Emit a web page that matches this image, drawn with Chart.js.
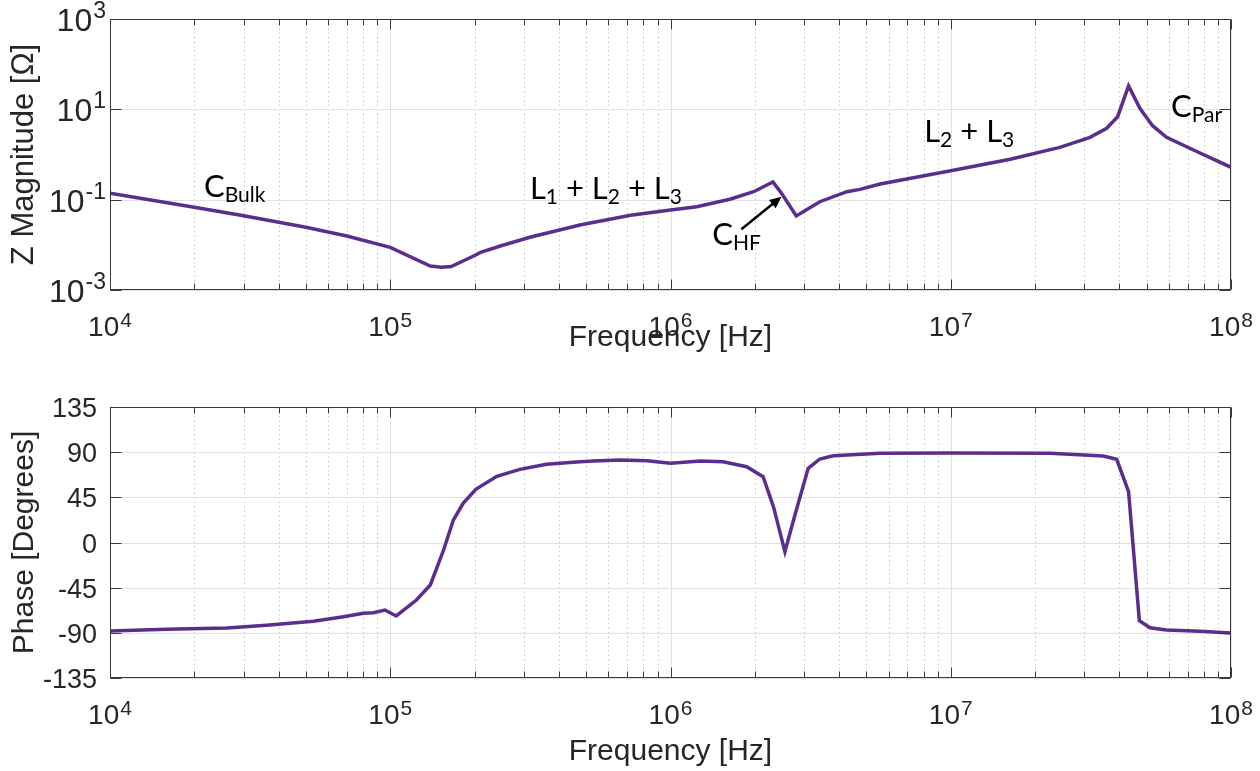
<!DOCTYPE html>
<html>
<head>
<meta charset="utf-8">
<script src="https://cdn.jsdelivr.net/npm/chart.js@4.4.1/dist/chart.umd.min.js"></script>
<style>
  html, body { margin: 0; padding: 0; background: #fff; }
  #wrap { position: relative; width: 1260px; height: 771px; }
  #magChart { position: absolute; left: 0; top: 0; }
  #phaseChart { position: absolute; left: 0; top: 385px; }
</style>
</head>
<body>
<div id="wrap">
  <canvas id="magChart" width="1260" height="385"></canvas>
  <canvas id="phaseChart" width="1260" height="386"></canvas>
</div>
<script>
// --- data ---
const freqMag = [1e4, 2e4, 3e4, 5e4, 7e4, 1e5, 1.39e5, 1.52e5, 1.65e5, 2.0e5, 2.1e5, 2.47e5,
  3.15e5, 4.75e5, 7.2e5, 1e6, 1.24e6, 1.63e6, 1.98e6, 2.32e6, 2.49e6, 2.81e6, 3.41e6,
  4.26e6, 4.74e6, 5.6e6, 1e7, 1.63e7, 2.45e7, 3.14e7, 3.6e7, 3.94e7, 4.31e7, 4.73e7,
  5.25e7, 5.89e7, 7.35e7, 1e8];
const magValues = [0.138, 0.068, 0.044, 0.0244, 0.0157, 0.0088, 0.0034, 0.0032, 0.0033, 0.0058, 0.0068, 0.0094,
  0.0147, 0.0275, 0.0451, 0.059, 0.070, 0.102, 0.150, 0.246, 0.138, 0.0435, 0.090,
  0.150, 0.169, 0.222, 0.438, 0.783, 1.44, 2.40, 3.80, 6.87, 32.9, 10.5,
  4.34, 2.40, 1.26, 0.521];

const freqPhase = [1e4, 1.59e4, 2.61e4, 3.62e4, 5.32e4, 6.81e4, 8.02e4, 8.71e4, 9.57e4, 1.05e5,
  1.24e5, 1.39e5, 1.55e5, 1.68e5, 1.82e5, 2.02e5, 2.4e5, 2.9e5, 3.61e5, 4.75e5, 5.31e5,
  6.62e5, 8.24e5, 1e6, 1.28e6, 1.54e6, 1.87e6, 2.14e6, 2.33e6, 2.56e6, 2.78e6, 3.10e6,
  3.41e6, 3.81e6, 5.6e6, 1e7, 2.26e7, 3.5e7, 3.91e7, 4.31e7, 4.71e7, 5.14e7, 5.89e7,
  7.74e7, 1e8];
const phaseValues = [-88.2, -86.5, -85.2, -82.5, -78.5, -73.9, -70.5, -69.9, -67.3, -73.2,
  -57.3, -42.3, -7.5, 22.4, 39.1, 53.0, 66.0, 72.9, 77.9, 80.5, 81.2,
  82.2, 81.5, 78.9, 81.2, 80.5, 75.5, 65.6, 35.7, -9.2, 27.4, 73.9,
  83.2, 86.5, 88.9, 89.2, 88.9, 86.2, 82.9, 50.6, -77.9, -84.9, -87.2,
  -88.5, -90.2];

// tick labels
const freqTicks = [1e4, 1e5, 1e6, 1e7, 1e8];
const freqTickExp = ['4', '5', '6', '7', '8'];
const magTicks = [1e-3, 1e-1, 1e1, 1e3];
const magTickExp = ['-3', '-1', '1', '3'];
const phaseTicks = [-135, -90, -45, 0, 45, 90, 135];
const phaseTickLabels = ['-135', '-90', '-45', '0', '45', '90', '135'];

// text on the magnitude plot: [freq, magnitude, parts]
const magNotes = [
  [2.165e4, 0.115, [['C', 0], ['Bulk', 1]]],
  [3.15e5, 0.1035, [['L', 0], ['1', 1], [' + L', 0], ['2', 1], [' + L', 0], ['3', 1]]],
  [1.41e6, 0.00993, [['C', 0], ['HF', 1]]],
  [8.04e6, 1.89, [['L', 0], ['2', 1], [' + L', 0], ['3', 1]]],
  [6.11e7, 6.67, [['C', 0], ['Par', 1]]]
];
const arrowFrom = [1.79e6, 0.0221];
const arrowTo = [2.49e6, 0.1164];

const lineColor = '#5b2d8e';
const axisFont = '"Liberation Sans", Arial, sans-serif';
const noteFont = 'Lato, "Open Sans", sans-serif';

// minor ticks 2..9 in every decade
const freqMinor = [];
freqTicks.slice(0, -1).forEach(d => { for (let k = 2; k <= 9; k++) freqMinor.push(d * k); });

function pts(xs, ys) {
    return xs.map((v, i) => ({ x: v, y: ys[i] }));
}

function hline(ctx, x1, y1, x2, y2) {
    ctx.beginPath();
    ctx.moveTo(x1, y1);
    ctx.lineTo(x2, y2);
    ctx.stroke();
}

// "10" with a raised exponent
function drawPow(ctx, x, y, exp, align, size, expSize, raise) {
    ctx.font = `${size}px ${axisFont}`;
    const wb = ctx.measureText('10').width;
    ctx.font = `${expSize}px ${axisFont}`;
    const we = ctx.measureText(exp).width;
    const total = wb + we + 1;
    const sx = align === 'center' ? x - total / 2 : x - total;
    ctx.textAlign = 'left';
    ctx.font = `${size}px ${axisFont}`;
    ctx.fillText('10', sx, y);
    ctx.font = `${expSize}px ${axisFont}`;
    ctx.fillText(exp, sx + wb + 1, y - raise);
}

// MATLAB-like box, grid, inward ticks and labels
function axesPlugin(cfg) {
    return {
        id: 'matlabAxes',
        beforeDatasetsDraw(chart) {
            const { ctx, chartArea: a, scales: { x, y } } = chart;
            ctx.save();
            ctx.lineWidth = 1;
            ctx.strokeStyle = '#c4c4c4';
            ctx.setLineDash([1.5, 3]);
            freqMinor.forEach(v => {
                const px = Math.round(x.getPixelForValue(v)) + 0.5;
                hline(ctx, px, a.top, px, a.bottom);
            });
            ctx.setLineDash([]);
            ctx.strokeStyle = '#e2e2e2';
            freqTicks.forEach(v => {
                const px = Math.round(x.getPixelForValue(v)) + 0.5;
                hline(ctx, px, a.top, px, a.bottom);
            });
            cfg.yTicks.forEach(v => {
                const py = Math.round(y.getPixelForValue(v)) + 0.5;
                hline(ctx, a.left, py, a.right, py);
            });
            ctx.restore();
        },
        afterDatasetsDraw(chart) {
            const { ctx, chartArea: a, scales: { x, y } } = chart;
            const L = Math.round(a.left) + 0.5, R = Math.round(a.right) - 0.5;
            const T = Math.round(a.top) + 0.5, B = Math.round(a.bottom) - 0.5;
            ctx.save();
            ctx.strokeStyle = '#3a3a3a';
            ctx.lineWidth = 1;
            ctx.strokeRect(L, T, R - L, B - T);
            freqTicks.forEach(v => {
                const px = Math.round(x.getPixelForValue(v)) + 0.5;
                hline(ctx, px, B, px, B - 10);
                hline(ctx, px, T, px, T + 10);
            });
            freqMinor.forEach(v => {
                const px = Math.round(x.getPixelForValue(v)) + 0.5;
                hline(ctx, px, B, px, B - 6);
                hline(ctx, px, T, px, T + 6);
            });
            cfg.yTicks.forEach(v => {
                const py = Math.round(y.getPixelForValue(v)) + 0.5;
                hline(ctx, L, py, L + 11, py);
                hline(ctx, R, py, R - 11, py);
            });

            ctx.fillStyle = '#262626';
            ctx.textBaseline = 'alphabetic';
            freqTicks.forEach((v, i) => {
                drawPow(ctx, x.getPixelForValue(v), a.bottom + 46, freqTickExp[i], 'center', 28, 21, 9);
            });
            cfg.yTicks.forEach((v, i) => {
                const py = y.getPixelForValue(v);
                if (cfg.yPow) {
                    drawPow(ctx, a.left - 4, py + 12, cfg.yLabels[i], 'right', 32, 23, 13);
                } else {
                    ctx.font = `27px ${axisFont}`;
                    ctx.textAlign = 'right';
                    ctx.fillText(cfg.yLabels[i], a.left - 13, py + 10);
                }
            });

            ctx.font = `30px ${axisFont}`;
            ctx.textAlign = 'center';
            ctx.fillText('Frequency [Hz]', (a.left + a.right) / 2, a.bottom + cfg.xTitleGap);
            ctx.font = `${cfg.yTitleSize}px ${axisFont}`;
            ctx.translate(33, (a.top + a.bottom) / 2);
            ctx.rotate(-Math.PI / 2);
            ctx.fillText(cfg.yTitle, 0, 0);
            ctx.restore();
        }
    };
}

const notesPlugin = {
    id: 'magNotes',
    afterDatasetsDraw(chart) {
        const { ctx, scales: { x, y } } = chart;
        ctx.save();
        ctx.fillStyle = '#000';
        ctx.textAlign = 'left';
        ctx.textBaseline = 'alphabetic';
        magNotes.forEach(([f, m, parts]) => {
            let px = x.getPixelForValue(f);
            const py = y.getPixelForValue(m);
            parts.forEach(([txt, sub]) => {
                ctx.font = sub ? `21px ${noteFont}` : `31px ${noteFont}`;
                ctx.fillText(txt, px, sub ? py + 5 : py);
                px += ctx.measureText(txt).width;
            });
        });
        // arrow to the C_HF dip
        const x1 = x.getPixelForValue(arrowFrom[0]), y1 = y.getPixelForValue(arrowFrom[1]);
        const x2 = x.getPixelForValue(arrowTo[0]), y2 = y.getPixelForValue(arrowTo[1]);
        const ang = Math.atan2(y2 - y1, x2 - x1);
        const head = 13;
        ctx.strokeStyle = '#000';
        ctx.lineWidth = 2.5;
        hline(ctx, x1, y1, x2 - Math.cos(ang) * head * 0.8, y2 - Math.sin(ang) * head * 0.8);
        ctx.beginPath();
        ctx.moveTo(x2, y2);
        ctx.lineTo(x2 - head * Math.cos(ang - 0.42), y2 - head * Math.sin(ang - 0.42));
        ctx.lineTo(x2 - head * Math.cos(ang + 0.42), y2 - head * Math.sin(ang + 0.42));
        ctx.closePath();
        ctx.fill();
        ctx.restore();
    }
};

function baseOptions(padTop, padBottom, yScale) {
    return {
        responsive: false,
        animation: false,
        layout: { padding: { left: 110, right: 29, top: padTop, bottom: padBottom } },
        plugins: { legend: { display: false }, tooltip: { enabled: false } },
        scales: {
            x: { type: 'logarithmic', min: 1e4, max: 1e8, display: false },
            y: Object.assign({ display: false }, yScale)
        }
    };
}

const lineStyle = {
    borderColor: lineColor,
    borderWidth: 3.5,
    pointRadius: 0,
    tension: 0,
    fill: false
};

new Chart(document.getElementById('magChart'), {
    type: 'line',
    data: { datasets: [Object.assign({ data: pts(freqMag, magValues) }, lineStyle)] },
    options: baseOptions(19, 95, { type: 'logarithmic', min: 1e-3, max: 1e3 }),
    plugins: [axesPlugin({ yTicks: magTicks, yLabels: magTickExp, yPow: true, yTitle: 'Z Magnitude [Ω]', yTitleSize: 31, xTitleGap: 56 }), notesPlugin]
});

new Chart(document.getElementById('phaseChart'), {
    type: 'line',
    data: { datasets: [Object.assign({ data: pts(freqPhase, phaseValues) }, lineStyle)] },
    options: baseOptions(22, 93, { type: 'linear', min: -135, max: 135 }),
    plugins: [axesPlugin({ yTicks: phaseTicks, yLabels: phaseTickLabels, yPow: false, yTitle: 'Phase [Degrees]', yTitleSize: 30, xTitleGap: 82 })]
});
</script>
</body>
</html>
